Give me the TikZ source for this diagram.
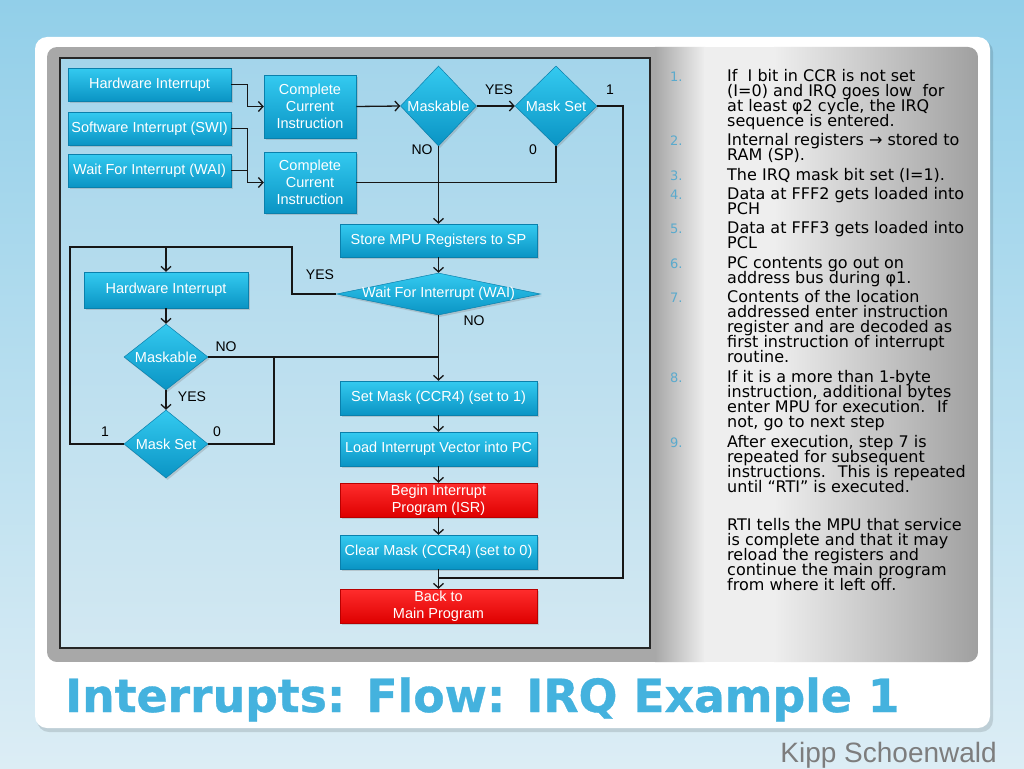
\documentclass[tikz,border=0pt]{standalone}
\usepackage{fontspec}
\setmainfont{Liberation Sans}
\newfontfamily\verd{DejaVu Sans}
\newfontfamily\titlefont[BoldFeatures={FakeBold=0.8}]{DejaVu Sans}
\usetikzlibrary{shapes.geometric,arrows.meta,shadows}
\definecolor{bgtop}{RGB}{146,207,233}
\definecolor{bgbot}{RGB}{220,237,245}
\definecolor{gA}{RGB}{168,168,168}
\definecolor{gL}{RGB}{238,238,238}
\definecolor{gR}{RGB}{160,160,160}
\definecolor{dtop}{RGB}{164,213,235}
\definecolor{dbot}{RGB}{210,232,242}
\definecolor{cyT}{RGB}{52,202,240}
\definecolor{cyB}{RGB}{10,148,196}
\definecolor{cyE}{RGB}{10,128,172}
\definecolor{rdT}{RGB}{255,45,45}
\definecolor{rdB}{RGB}{222,0,0}
\definecolor{rdE}{RGB}{185,0,0}
\definecolor{lc}{RGB}{22,22,22}
\definecolor{titlec}{RGB}{68,178,222}
\definecolor{numc}{RGB}{90,170,205}
\definecolor{kippc}{RGB}{125,125,125}
\newcommand\itemlines[1]{\vtop{\baselineskip=15pt\lineskiplimit=-20pt\lineskip=0pt\halign{##\hfil\cr#1\crcr}}}
\begin{document}
\begin{tikzpicture}[x=1pt,y=-1pt,
  box/.style={rectangle, draw=cyE, line width=0.5pt, top color=cyT, bottom color=cyB,
    text=white, font=\fontsize{14.5}{17}\selectfont, align=center, inner sep=0pt,
    drop shadow={shadow xshift=1.5pt, shadow yshift=-2pt, opacity=0.3}},
  redbox/.style={box, draw=rdE, top color=rdT, bottom color=rdB},
  dia/.style={diamond, draw=cyE, line width=0.5pt, top color=cyT, bottom color=cyB,
    text=white, font=\fontsize{14.5}{17}\selectfont, inner sep=0pt,
    drop shadow={shadow xshift=1.5pt, shadow yshift=-2pt, opacity=0.3}},
  lbl/.style={font=\fontsize{14}{16}\selectfont, text=black, inner sep=0pt},
  ln/.style={draw=lc, line width=1.3pt},
  arr/.style={ln, -{Straight Barb[length=4.5pt,width=10pt]}},
  itemtext/.style={font=\verd\fontsize{16}{15}\selectfont, text=black, inner sep=0pt, anchor=base west},
  numtext/.style={font=\verd\fontsize{13}{15}\selectfont, text=numc, inner sep=0pt, anchor=base west},
  kipptext/.style={anchor=base east, font=\fontsize{28}{30}\selectfont, text=kippc, inner sep=0pt}
]
\useasboundingbox (0,0) rectangle (1024,768);
% slide background
\shade[top color=bgtop, bottom color=bgbot] (0,0) rectangle (1024,768);
% white card
\fill[black, opacity=0.12, rounded corners=12pt] (37,40) rectangle (993,732);
\fill[white, rounded corners=12pt] (35,37) rectangle (990,728);
% grey panel
\begin{scope}
\clip[rounded corners=10pt] (47,47) rectangle (978,662);
\fill[gA] (47,47) rectangle (656,662);
\shade[left color=gA, right color=gL] (655,47) rectangle (705,662);
\fill[gL] (704,47) rectangle (775,662);
\shade[left color=gL, right color=gR] (774,47) rectangle (978,662);
\end{scope}
% diagram panel
\shade[top color=dtop, bottom color=dbot] (60,58) rectangle (650,648);
\draw[black!85, line width=1.2pt] (60,58) rectangle (650,648);

% nodes
\node[box, minimum width=163, minimum height=33] (hw1) at (149.5,84.5) {Hardware Interrupt};
\node[box, minimum width=163, minimum height=33] (swi) at (149.5,128.5) {Software Interrupt (SWI)};
\node[box, minimum width=163, minimum height=33] (wai1) at (149.5,170.5) {Wait For Interrupt (WAI)};
\node[box, minimum width=92, minimum height=63] (cci1) at (310,106.5) {Complete\\Current\\Instruction};
\node[box, minimum width=92, minimum height=61] (cci2) at (310,182.5) {Complete\\Current\\Instruction};
\node[dia, minimum width=76, minimum height=80] (mask1) at (438.5,106) {\makebox[0pt]{Maskable}};
\node[dia, minimum width=82, minimum height=80] (ms1) at (556,106) {\makebox[0pt]{Mask Set}};
\node[box, minimum width=197, minimum height=33] (store) at (438.5,240.5) {Store MPU Registers to SP};
\node[dia, minimum width=204, minimum height=42] (waid) at (438.5,294) {\makebox[0pt]{Wait For Interrupt (WAI)}};
\node[box, minimum width=164, minimum height=36] (hw2) at (166,290) {Hardware Interrupt};
\node[dia, minimum width=84, minimum height=66] (mask2) at (166,357) {\makebox[0pt]{Maskable}};
\node[dia, minimum width=84, minimum height=68] (ms2) at (166,444) {\makebox[0pt]{Mask Set}};
\node[box, minimum width=197, minimum height=34] (setm) at (438.5,398) {Set Mask (CCR4) (set to 1)};
\node[box, minimum width=197, minimum height=34] (load) at (438.5,449) {Load Interrupt Vector into PC};
\node[redbox, minimum width=197, minimum height=34] (isr) at (438.5,500) {Begin Interrupt\\Program (ISR)};
\node[box, minimum width=197, minimum height=34] (clr) at (438.5,552) {Clear Mask (CCR4) (set to 0)};
\node[redbox, minimum width=197, minimum height=34] (back) at (438.5,606) {Back to\\Main Program};

% connectors
\draw[arr] (hw1.east) -- ++(16,0) |- (cci1.west);
\draw[arr] (swi.east) -- ++(16,0) |- (cci2.west);
\draw[ln] (wai1.east) -- ++(16,0);
\draw[arr] (cci1.east) -- (mask1.west);
\draw[arr] (mask1.east) -- (ms1.west);
\coordinate (rj) at (623,578);
\draw[ln] (ms1.east) -| (rj) -- (clr.south |- rj);
\draw[arr] (mask1.south) -- (store.north);
\draw[ln] (ms1.south) |- (cci2.east);
\draw[arr] (store.south) -- (waid.north);
\coordinate (wl1) at (292,247);
\coordinate (wl2) at (70,247);
\draw[ln] (waid.west) -| (wl1) -- (wl2) |- (ms2.west);
\draw[arr] (hw2.north |- wl2) -- (hw2.north);
\draw[arr] (hw2.south) -- (mask2.north);
\draw[arr] (waid.south) -- (setm.north);
\draw[ln] (mask2.east) -- (setm.north |- mask2.east);
\draw[arr] (mask2.south) -- (ms2.north);
\coordinate (mj) at (274,357);
\draw[ln] (ms2.east) -| (mj);
\draw[arr] (setm.south) -- (load.north);
\draw[arr] (load.south) -- (isr.north);
\draw[arr] (isr.south) -- (clr.north);
\draw[arr] (clr.south) -- (back.north);

% labels
\node[lbl] at (499,90) {YES};
\node[lbl] at (610,90) {1};
\node[lbl] at (422,150) {NO};
\node[lbl] at (533,150) {0};
\node[lbl] at (320,275) {YES};
\node[lbl] at (474,321) {NO};
\node[lbl] at (226,347) {NO};
\node[lbl] at (192,397) {YES};
\node[lbl] at (105,432) {1};
\node[lbl] at (217,432) {0};

% right-hand text
\node[numtext] (n1) at (670,81.5) {1.};
\node[itemtext] (t1) at (727,81.5) {\itemlines{If~ I bit in CCR is not set\cr (I=0) and IRQ goes low~ for\cr at least φ2 cycle, the IRQ\cr sequence is entered.}};
\node[numtext] (n2) at (670,145.5) {2.};
\node[itemtext] (t2) at (727,145.5) {\itemlines{Internal registers → stored to\cr RAM (SP).}};
\node[numtext] (n3) at (670,180.5) {3.};
\node[itemtext] (t3) at (727,180.5) {\itemlines{The IRQ mask bit set (I=1).}};
\node[numtext] (n4) at (670,199.5) {4.};
\node[itemtext] (t4) at (727,199.5) {\itemlines{Data at FFF2 gets loaded into\cr PCH}};
\node[numtext] (n5) at (670,233.5) {5.};
\node[itemtext] (t5) at (727,233.5) {\itemlines{Data at FFF3 gets loaded into\cr PCL}};
\node[numtext] (n6) at (670,268.5) {6.};
\node[itemtext] (t6) at (727,268.5) {\itemlines{PC contents go out on\cr address bus during φ1.}};
\node[numtext] (n7) at (670,302.5) {7.};
\node[itemtext] (t7) at (727,302.5) {\itemlines{Contents of the location\cr addressed enter instruction\cr register and are decoded as\cr first instruction of interrupt\cr routine.}};
\node[numtext] (n8) at (670,382.5) {8.};
\node[itemtext] (t8) at (727,382.5) {\itemlines{If it is a more than 1-byte\cr instruction, additional bytes\cr enter MPU for execution.~ If\cr not, go to next step}};
\node[numtext] (n9) at (670,447.5) {9.};
\node[itemtext] (t9) at (727,447.5) {\itemlines{After execution, step 7 is\cr repeated for subsequent\cr instructions.~ This is repeated\cr until “RTI” is executed.}};
\node[itemtext] (t10) at (727,530.5) {\itemlines{RTI tells the MPU that service\cr is complete and that it may\cr reload the registers and\cr continue the main program\cr from where it left off.}};

% title and author
\node[anchor=base west, font=\titlefont\bfseries\fontsize{45.7}{50}\selectfont, text=titlec, inner sep=0pt] (title) at (65,712) {Interrupts: Flow: IRQ Example 1};
\node[kipptext] (kipp) at (997,762) {Kipp Schoenwald};
\end{tikzpicture}
\end{document}
